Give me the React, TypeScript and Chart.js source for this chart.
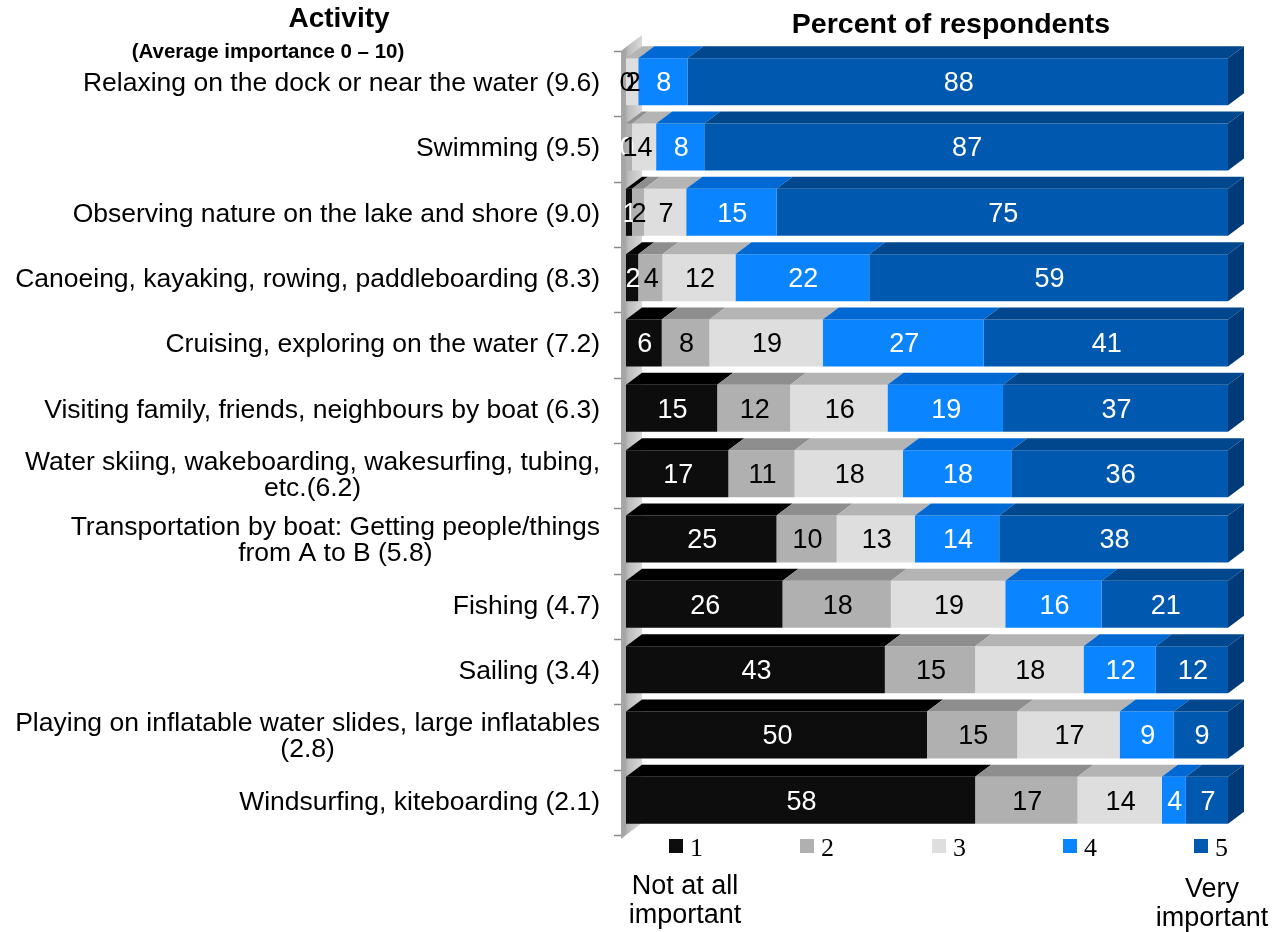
import React, { useEffect, useRef } from "react";
import { Chart, registerables } from "chart.js";
Chart.register(...registerables);

const categories: string[][] = [
  ["Relaxing on the dock or near the water (9.6)"],
  ["Swimming (9.5)"],
  ["Observing nature on the lake and shore (9.0)"],
  ["Canoeing, kayaking, rowing, paddleboarding (8.3)"],
  ["Cruising, exploring on the water (7.2)"],
  ["Visiting family, friends, neighbours by boat (6.3)"],
  ["Water skiing, wakeboarding, wakesurfing, tubing,", "etc.(6.2)"],
  ["Transportation by boat: Getting people/things", "from A to B (5.8)"],
  ["Fishing (4.7)"],
  ["Sailing (3.4)"],
  ["Playing on inflatable water slides, large inflatables", "(2.8)"],
  ["Windsurfing, kiteboarding (2.1)"],
];
const seriesLabels = ["1", "2", "3", "4", "5"];
const s1 = [0, 0, 1, 2, 6, 15, 17, 25, 26, 43, 50, 58];
const s2 = [0, 1, 2, 4, 8, 12, 11, 10, 18, 15, 15, 17];
const s3 = [2, 4, 7, 12, 19, 16, 18, 13, 19, 18, 17, 14];
const s4 = [8, 8, 15, 22, 27, 19, 18, 14, 16, 12, 9, 4];
const s5 = [88, 87, 75, 59, 41, 37, 36, 38, 21, 12, 9, 7];
const series = [s1, s2, s3, s4, s5];

const frontColors = ["#0d0d0d", "#b0b0b0", "#dedede", "#0a84ff", "#0059ae"];
const topColors = ["#000000", "#8e8e8e", "#b4b4b4", "#0068d2", "#00478e"];
const sideColors = ["#000000", "#777777", "#999999", "#0055aa", "#003a78"];
const labelColors = ["#ffffff", "#000000", "#000000", "#ffffff", "#ffffff"];

const DX = 16;
const DY = 12;
const SANS = "'Liberation Sans', Arial, sans-serif";
const SERIF = "'Liberation Serif', 'Times New Roman', serif";

const totals = categories.map((_, i) => series.reduce((a, s) => a + s[i], 0));

const threeD = {
  id: "threeD",
  beforeDatasetsDraw(chart: any) {
    const ctx = chart.ctx;
    const ca = chart.chartArea;
    const x0 = ca.left;
    ctx.save();
    const g = ctx.createLinearGradient(x0 - 6, 0, x0 + DX, 0);
    g.addColorStop(0, "#8c8c8c");
    g.addColorStop(0.4, "#bdbdbd");
    g.addColorStop(1, "#d9d9d9");
    ctx.fillStyle = g;
    ctx.beginPath();
    ctx.moveTo(x0, ca.bottom + 2);
    ctx.lineTo(x0 + DX, ca.bottom + 2 - DY);
    ctx.lineTo(x0 + DX, ca.top - 2 - DY);
    ctx.lineTo(x0, ca.top - 2);
    ctx.closePath();
    ctx.fill();
    ctx.fillStyle = "#a6a6a6";
    ctx.beginPath();
    ctx.moveTo(x0 - 5, ca.top + 2);
    ctx.lineTo(x0, ca.top - 2);
    ctx.lineTo(x0, ca.bottom + 2);
    ctx.lineTo(x0 - 5, ca.bottom + 6);
    ctx.closePath();
    ctx.fill();
    ctx.strokeStyle = "#8a8a8a";
    ctx.lineWidth = 1.5;
    const n = categories.length;
    const step = (ca.bottom - ca.top) / n;
    for (let k = 0; k <= n; k++) {
      const y = Math.round(ca.top + k * step) + 2.5;
      ctx.beginPath();
      ctx.moveTo(x0 - 12, y);
      ctx.lineTo(x0 - 5, y);
      ctx.stroke();
    }
    ctx.restore();
  },
  afterDatasetsDraw(chart: any) {
    const ctx = chart.ctx;
    ctx.save();
    const nds = chart.data.datasets.length;
    for (let d = 0; d < nds; d++) {
      const meta = chart.getDatasetMeta(d);
      meta.data.forEach((el: any) => {
        const p = el.getProps(["x", "y", "base", "height"], true);
        const x1 = Math.min(p.x, p.base);
        const x2 = Math.max(p.x, p.base);
        if (x2 - x1 < 0.5) return;
        const yt = p.y - p.height / 2;
        const yb = p.y + p.height / 2;
        ctx.fillStyle = topColors[d];
        ctx.beginPath();
        ctx.moveTo(x1, yt);
        ctx.lineTo(x2, yt);
        ctx.lineTo(x2 + DX, yt - DY);
        ctx.lineTo(x1 + DX, yt - DY);
        ctx.closePath();
        ctx.fill();
        if (d === nds - 1) {
          ctx.fillStyle = sideColors[d];
          ctx.beginPath();
          ctx.moveTo(x2, yt);
          ctx.lineTo(x2 + DX, yt - DY);
          ctx.lineTo(x2 + DX, yb - DY);
          ctx.lineTo(x2, yb);
          ctx.closePath();
          ctx.fill();
        }
      });
    }
    // data labels
    ctx.font = "27px " + SANS;
    ctx.textAlign = "center";
    ctx.textBaseline = "middle";
    for (let d = 0; d < nds; d++) {
      const meta = chart.getDatasetMeta(d);
      meta.data.forEach((el: any, i: number) => {
        const p = el.getProps(["x", "y", "base"], true);
        ctx.fillStyle = labelColors[d];
        ctx.fillText(String(series[d][i]), (p.x + p.base) / 2 + 1, p.y + 2);
      });
    }
    // category labels
    const yScale = chart.scales.y;
    ctx.font = "26.5px " + SANS;
    ctx.fillStyle = "#000";
    categories.forEach((lines, i) => {
      const yc = yScale.getPixelForValue(i);
      const w = Math.max(...lines.map((l) => ctx.measureText(l).width));
      const cx = 600 - w / 2;
      const lh = 26;
      lines.forEach((l, j) => {
        ctx.fillText(l, cx, yc + 2 + (j - (lines.length - 1) / 2) * lh);
      });
    });
    // titles
    ctx.font = "bold 28px " + SANS;
    ctx.fillText("Activity", 339, 19);
    ctx.font = "bold 28.5px " + SANS;
    ctx.fillText("Percent of respondents", 951, 25);
    ctx.font = "bold 20.5px " + SANS;
    ctx.fillText("(Average importance 0 \u2013 10)", 268, 52);
    // legend
    const legendX = [669, 800, 932, 1063, 1194];
    seriesLabels.forEach((lab, d) => {
      ctx.fillStyle = frontColors[d];
      ctx.fillRect(legendX[d], 839, 14, 14);
      ctx.fillStyle = "#000";
      ctx.font = "26px " + SERIF;
      ctx.textAlign = "left";
      ctx.fillText(lab, legendX[d] + 21, 849);
    });
    // axis end labels
    ctx.font = "27px " + SANS;
    ctx.textAlign = "center";
    ctx.fillText("Not at all", 685, 887);
    ctx.fillText("important", 685, 916);
    ctx.fillText("Very", 1212, 890);
    ctx.fillText("important", 1212, 919);
    ctx.restore();
  },
};

export default function App() {
  const ref = useRef<HTMLCanvasElement | null>(null);
  useEffect(() => {
    document.body.style.margin = "0";
    if (!ref.current) return;
    const chart = new Chart(ref.current, {
      type: "bar",
      data: {
        labels: categories.map((c) => c.join(" ")),
        datasets: series.map((s, d) => ({
          label: seriesLabels[d],
          data: s.map((v, i) => (v / totals[i]) * 100),
          backgroundColor: frontColors[d],
          borderWidth: 0,
          categoryPercentage: 1,
          barPercentage: 0.72,
        })),
      },
      options: {
        indexAxis: "y",
        responsive: false,
        animation: false,
        devicePixelRatio: 1,
        layout: { padding: { left: 626, right: 52, top: 49, bottom: 99 } },
        scales: {
          x: { stacked: true, min: 0, max: 100, display: false },
          y: { stacked: true, display: false },
        },
        plugins: {
          legend: { display: false },
          tooltip: { enabled: false },
          title: { display: false },
        },
      },
      plugins: [threeD],
    });
    return () => chart.destroy();
  }, []);
  return (
    <div style={{ width: 1280, height: 932 }}>
      <canvas ref={ref} width={1280} height={932} />
    </div>
  );
}
